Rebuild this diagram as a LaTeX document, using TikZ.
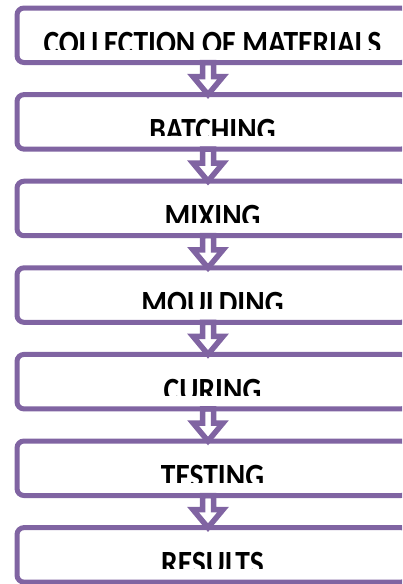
\documentclass[tikz,border=0pt]{standalone}
\usepackage{fontspec}
\setmainfont{Carlito}
\usepackage{tikz}
\usetikzlibrary{positioning}
\usetikzlibrary{calc,backgrounds}
\definecolor{stagepurple}{RGB}{128,100,162}
\tikzstyle{stage}=[rectangle,rounded corners=7pt,draw=stagepurple,line width=5pt,minimum width=391pt,minimum height=54.5pt,inner sep=0pt,outer sep=0pt]
\tikzstyle{stagelabel}=[anchor=base,inner sep=0pt,yscale=1.15,font=\fontsize{29.5}{30}\selectfont\bfseries]
\tikzstyle{blockarrow}=[draw=stagepurple,fill=white,line width=5.5pt]

\begin{document}
\begin{tikzpicture}[x=1pt,y=-1pt]
    \useasboundingbox (0,0) rectangle (402,584);
    \clip (0,0) rectangle (402,584);
    % First the stage boxes
    \foreach \pos/\name in {{(212.5,35.25)/s1}, {(212.5,121.85)/s2}, {(212.5,208.45)/s3}, {(212.5,295.05)/s4}, {(212.5,381.65)/s5}, {(212.5,468.25)/s6}, {(212.5,554.85)/s7}}
        \node[stage] (\name) at \pos {};
    % Labels, cut off at the bottom as in the original
    \foreach \name/\text in {s1/COLLECTION OF MATERIALS, s2/BATCHING, s3/MIXING, s4/MOULDING, s5/CURING, s6/TESTING, s7/RESULTS} {
        \begin{scope}
            \clip (\name.north west) rectangle ($(\name.east)+(0,13.75)$);
            \node[stagelabel] (\name-label) at ($(\name.center)+(0,19.5)$) {\text};
        \end{scope}
    }
    % Block arrows between the stages, behind the box outlines
    \begin{pgfonlayer}{background}
    \foreach \a/\b in {s1/s2, s2/s3, s3/s4, s4/s5, s5/s6, s6/s7}
        \path[blockarrow] ($(\a.south)+(-10,0)$) -- ($(\b.north)+(-10,-18)$) -- ($(\b.north)+(-19.5,-18)$)
            -- ($(\b.north)+(-4.5,0)$) -- ($(\b.north)+(10.5,-18)$) -- ($(\b.north)+(1,-18)$)
            -- ($(\a.south)+(1,0)$) -- cycle;
    \end{pgfonlayer}
\end{tikzpicture}
\end{document}
